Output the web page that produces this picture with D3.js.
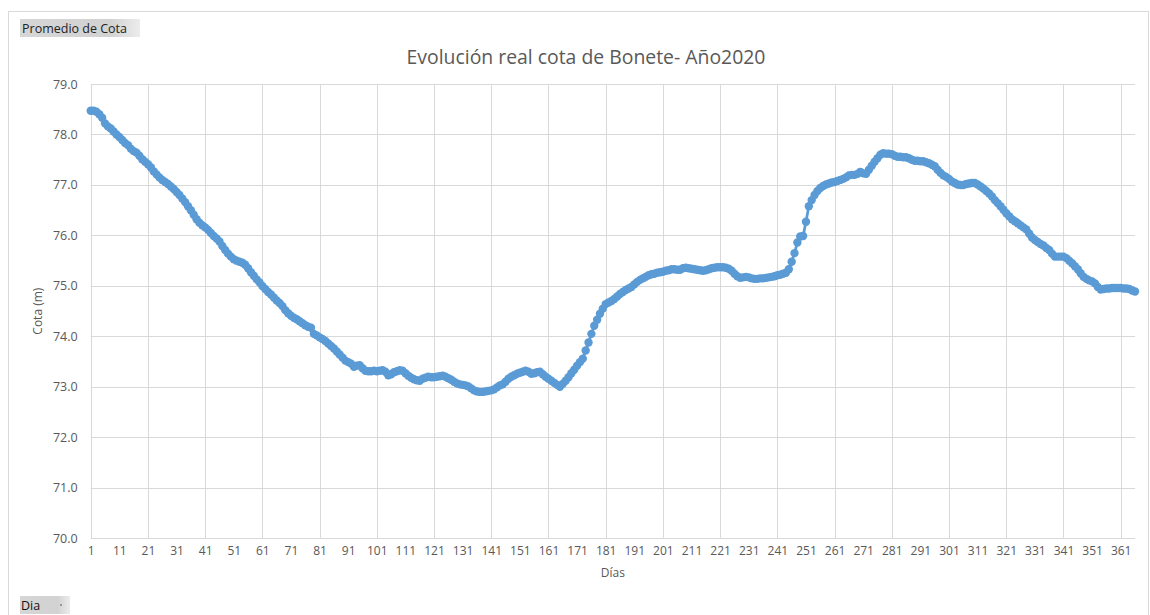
<!DOCTYPE html>
<html>
<head>
<meta charset="utf-8">
<script src="https://cdn.jsdelivr.net/npm/d3@7"></script>
<style>
  html, body { margin: 0; padding: 0; background: #fff; }
  svg { display: block; font-family: "Open Sans", "DejaVu Sans", sans-serif; }
</style>
</head>
<body>
<svg id="chart" width="1150" height="615"></svg>
<script>
// ---- data ----
const chartTitle = "Evolución real cota de Bonete- Año2020";
const yAxisTitle = "Cota (m)";
const xAxisTitle = "Días";
const fieldButtonTop = "Promedio de Cota";
const fieldButtonBottom = "Dia";
const yTicks = [70, 71, 72, 73, 74, 75, 76, 77, 78, 79];
const xLabelStep = 10;
const xGridStep = 20;
// daily elevation (m), days 1..366
const cota = [
  78.47, 78.47, 78.45, 78.40, 78.33, 78.22, 78.16, 78.12, 78.06, 78.00,
  77.95, 77.89, 77.83, 77.79, 77.72, 77.67, 77.64, 77.58, 77.51, 77.46,
  77.41, 77.35, 77.27, 77.21, 77.15, 77.10, 77.06, 77.02, 76.97, 76.92,
  76.86, 76.80, 76.73, 76.66, 76.58, 76.50, 76.41, 76.32, 76.25, 76.20,
  76.16, 76.11, 76.05, 75.99, 75.94, 75.88, 75.79, 75.71, 75.64, 75.58,
  75.53, 75.50, 75.48, 75.46, 75.42, 75.35, 75.27, 75.20, 75.13, 75.07,
  75.00, 74.94, 74.88, 74.83, 74.77, 74.71, 74.66, 74.60, 74.52, 74.46,
  74.41, 74.37, 74.34, 74.30, 74.26, 74.22, 74.19, 74.17, 74.05, 74.02,
  73.98, 73.95, 73.91, 73.86, 73.81, 73.76, 73.70, 73.64, 73.58, 73.52,
  73.49, 73.46, 73.40, 73.42, 73.43, 73.37, 73.32, 73.31, 73.31, 73.32,
  73.31, 73.32, 73.33, 73.30, 73.23, 73.25, 73.29, 73.31, 73.33, 73.32,
  73.27, 73.22, 73.18, 73.15, 73.13, 73.12, 73.16, 73.18, 73.20, 73.19,
  73.19, 73.20, 73.21, 73.22, 73.20, 73.17, 73.14, 73.10, 73.07, 73.05,
  73.04, 73.03, 73.01, 72.97, 72.93, 72.91, 72.90, 72.90, 72.91, 72.92,
  72.93, 72.95, 72.99, 73.03, 73.05, 73.10, 73.16, 73.20, 73.23, 73.26,
  73.28, 73.30, 73.32, 73.30, 73.26, 73.27, 73.29, 73.30, 73.25, 73.20,
  73.16, 73.12, 73.08, 73.04, 73.00, 73.06, 73.12, 73.19, 73.27, 73.34,
  73.42, 73.49, 73.56, 73.72, 73.88, 74.05, 74.21, 74.33, 74.45, 74.55,
  74.64, 74.67, 74.70, 74.74, 74.79, 74.84, 74.88, 74.92, 74.95, 74.98,
  75.03, 75.08, 75.12, 75.15, 75.18, 75.21, 75.23, 75.24, 75.26, 75.27,
  75.28, 75.30, 75.31, 75.33, 75.33, 75.32, 75.32, 75.35, 75.36, 75.35,
  75.34, 75.33, 75.32, 75.31, 75.30, 75.31, 75.33, 75.35, 75.36, 75.37,
  75.37, 75.37, 75.36, 75.34, 75.30, 75.24, 75.19, 75.16, 75.17, 75.18,
  75.17, 75.15, 75.14, 75.14, 75.15, 75.15, 75.16, 75.17, 75.18, 75.19,
  75.21, 75.22, 75.24, 75.26, 75.33, 75.48, 75.65, 75.86, 75.98, 75.99,
  76.27, 76.58, 76.70, 76.80, 76.88, 76.94, 76.98, 77.01, 77.03, 77.05,
  77.06, 77.08, 77.10, 77.12, 77.15, 77.19, 77.20, 77.20, 77.22, 77.26,
  77.23, 77.22, 77.30, 77.38, 77.46, 77.53, 77.60, 77.63, 77.62, 77.62,
  77.61, 77.58, 77.56, 77.56, 77.55, 77.55, 77.53, 77.50, 77.48, 77.48,
  77.47, 77.47, 77.45, 77.43, 77.40, 77.37, 77.30, 77.24, 77.19, 77.16,
  77.12, 77.07, 77.04, 77.01, 77.00, 77.00, 77.02, 77.03, 77.04, 77.04,
  77.01, 76.97, 76.93, 76.88, 76.83, 76.77, 76.70, 76.64, 76.58, 76.51,
  76.44, 76.38, 76.32, 76.28, 76.24, 76.20, 76.16, 76.12, 76.04, 75.96,
  75.91, 75.87, 75.83, 75.80, 75.75, 75.71, 75.64, 75.58, 75.58, 75.58,
  75.58, 75.55, 75.50, 75.45, 75.39, 75.33, 75.25, 75.18, 75.14, 75.11,
  75.09, 75.05, 74.98, 74.93, 74.94, 74.95, 74.95, 74.96, 74.96, 74.96,
  74.96, 74.95, 74.95, 74.94, 74.91, 74.89
];
const days = cota.map((_, i) => i + 1);

// ---- layout ----
const svg = d3.select("#chart");
const plot = { left: 90.7, right: 1135, top: 84, bottom: 538.3 };
const grey = "#595959";
const gridColor = "#D9D9D9";
const lineColor = "#5B9BD5";

// outer chart border
svg.append("rect")
  .attr("x", 8.5).attr("y", 11.5)
  .attr("width", 1140).attr("height", 610)
  .attr("fill", "#fff").attr("stroke", gridColor);

const x = d3.scaleLinear().domain([1, days.length]).range([plot.left, plot.right]);
const y = d3.scaleLinear().domain([70, 79]).range([plot.bottom, plot.top]);

// horizontal gridlines
svg.append("g").selectAll("line").data(yTicks).join("line")
  .attr("x1", plot.left).attr("x2", plot.right)
  .attr("y1", d => Math.round(y(d)) + 0.5).attr("y2", d => Math.round(y(d)) + 0.5)
  .attr("stroke", gridColor).attr("stroke-width", 1);

// vertical gridlines
const gridDays = days.filter(d => (d - 1) % xGridStep === 0);
svg.append("g").selectAll("line").data(gridDays).join("line")
  .attr("x1", d => Math.round(x(d)) + 0.5).attr("x2", d => Math.round(x(d)) + 0.5)
  .attr("y1", plot.top).attr("y2", plot.bottom)
  .attr("stroke", gridColor).attr("stroke-width", 1);

// y tick labels
const yAxis = d3.axisLeft(y).tickValues(yTicks).tickFormat(d3.format(".1f")).tickSize(0).tickPadding(13);
const gy = svg.append("g").attr("transform", `translate(${plot.left},0)`).call(yAxis);
gy.select(".domain").remove();
gy.selectAll("text").attr("fill", grey).style("font-size", "12.5px")
  .style("font-family", '"Open Sans", sans-serif');

// x tick labels
const labelDays = days.filter(d => (d - 1) % xLabelStep === 0);
const xAxis = d3.axisBottom(x).tickValues(labelDays).tickFormat(d3.format("d")).tickSize(0).tickPadding(8);
const gx = svg.append("g").attr("transform", `translate(0,${plot.bottom})`).call(xAxis);
gx.select(".domain").remove();
gx.selectAll("text").attr("fill", grey).style("font-size", "12px")
  .style("font-family", '"Open Sans", sans-serif');

// series line
const line = d3.line().x((d, i) => x(days[i])).y(d => y(d));
svg.append("path").datum(cota)
  .attr("d", line).attr("fill", "none")
  .attr("stroke", lineColor).attr("stroke-width", 2.75)
  .attr("stroke-linejoin", "round");

// markers
svg.append("g").selectAll("circle").data(cota).join("circle")
  .attr("cx", (d, i) => x(days[i])).attr("cy", d => y(d))
  .attr("r", 4.2).attr("fill", lineColor);

// title
svg.append("text").attr("x", 586).attr("y", 64)
  .attr("text-anchor", "middle").attr("fill", grey)
  .style("font-size", "19.4px").text(chartTitle);

// axis titles
svg.append("text")
  .attr("transform", `translate(42,${(plot.top + plot.bottom) / 2}) rotate(-90)`)
  .attr("text-anchor", "middle").attr("fill", grey)
  .style("font-size", "12px").text(yAxisTitle);
svg.append("text").attr("x", (plot.left + plot.right) / 2).attr("y", 577)
  .attr("text-anchor", "middle").attr("fill", grey)
  .style("font-size", "12px").text(xAxisTitle);

// pivot field buttons
const grad = svg.append("defs").append("linearGradient").attr("id", "btn")
  .attr("x1", 0).attr("y1", 0).attr("x2", 1).attr("y2", 0);
grad.append("stop").attr("offset", "0%").attr("stop-color", "#d6d6d6");
grad.append("stop").attr("offset", "75%").attr("stop-color", "#d2d2d2");
grad.append("stop").attr("offset", "100%").attr("stop-color", "#ececec");

svg.append("rect").attr("x", 20).attr("y", 19).attr("width", 120).attr("height", 18)
  .attr("fill", "url(#btn)");
svg.append("text").attr("x", 22).attr("y", 33).attr("fill", "#222")
  .style("font-size", "12.5px").text(fieldButtonTop);

svg.append("rect").attr("x", 20).attr("y", 596).attr("width", 50).attr("height", 18)
  .attr("fill", "url(#btn)");
svg.append("text").attr("x", 21).attr("y", 610).attr("fill", "#111")
  .style("font-size", "12.5px").text(fieldButtonBottom);
svg.append("circle").attr("cx", 61).attr("cy", 605).attr("r", 0.8).attr("fill", "#444");
</script>
</body>
</html>
